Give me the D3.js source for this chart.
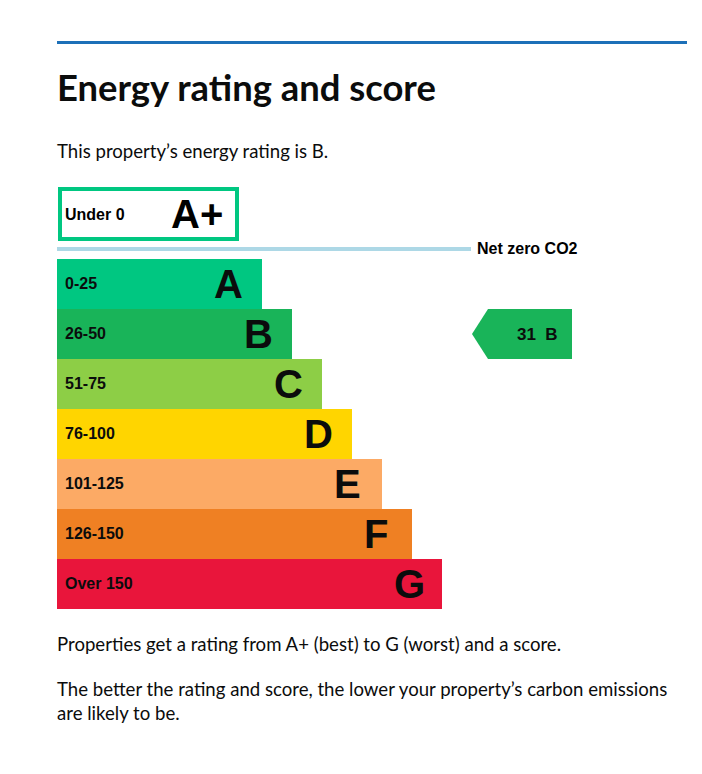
<!DOCTYPE html>
<html>
<head>
<meta charset="utf-8">
<script src="https://cdn.jsdelivr.net/npm/d3@7"></script>
<style>
html,body{margin:0;padding:0;background:#fff;}
svg{display:block;}
</style>
</head>
<body>
<div id="chart"></div>
<script>
// ---- data ----
const title = "Energy rating and score";
const subtitle = "This property\u2019s energy rating is B.";
const ratings = ["A", "B", "C", "D", "E", "F", "G"];
const ranges = ["0-25", "26-50", "51-75", "76-100", "101-125", "126-150", "Over 150"];
const bandColors = ["#00c781", "#19b459", "#8dce46", "#ffd500", "#fcaa65", "#ef8023", "#e9153b"];
const topRating = "A+";
const topRange = "Under 0";
const netZeroLabel = "Net zero CO2";
const currentScore = 31;
const currentRating = "B";
const footnotes = [
  ["Properties get a rating from A+ (best) to G (worst) and a score."],
  ["The better the rating and score, the lower your property\u2019s carbon emissions", "are likely to be."]
];

const W = 702, H = 774;
const svg = d3.select("#chart").append("svg").attr("width", W).attr("height", H);

const bodyFont = "Lato, 'Noto Sans', sans-serif";
const labelFont = "'Liberation Sans', Arial, sans-serif";

// top rule
svg.append("rect").attr("x", 57).attr("y", 41).attr("width", 630).attr("height", 3).attr("fill", "#1d70b8");

svg.append("text").attr("x", 57).attr("y", 101)
  .attr("font-family", bodyFont).attr("font-weight", 700).attr("font-size", 36.4)
  .attr("fill", "#0b0c0c").text(title);

svg.append("text").attr("x", 57).attr("y", 158)
  .attr("font-family", bodyFont).attr("font-size", 18.6)
  .attr("fill", "#0b0c0c").text(subtitle);

// scales
const y = d3.scaleBand().domain(ratings).range([259, 609]).padding(0);
const idx = d3.scaleOrdinal().domain(ratings).range(d3.range(ratings.length));
const xw = d3.scaleLinear().domain([0, ratings.length - 1]).range([262, 442]);
const x0 = 57;

// A+ box
svg.append("rect").attr("x", 60).attr("y", 189).attr("width", 177).attr("height", 50)
  .attr("fill", "#fff").attr("stroke", "#00c781").attr("stroke-width", 4);
svg.append("text").attr("x", 65).attr("y", 219.5)
  .attr("font-family", labelFont).attr("font-weight", 700).attr("font-size", 16)
  .text(topRange);
svg.append("text").attr("x", 171).attr("y", 228)
  .attr("font-family", labelFont).attr("font-weight", 700).attr("font-size", 40)
  .text(topRating);

// net zero line
svg.append("rect").attr("x", 57).attr("y", 247).attr("width", 414).attr("height", 4).attr("fill", "#add8e6");
svg.append("text").attr("x", 477).attr("y", 254)
  .attr("font-family", labelFont).attr("font-weight", 700).attr("font-size", 16)
  .text(netZeroLabel);

// bars
const g = svg.append("g");
const rows = g.selectAll("g.band").data(ratings).join("g").attr("class", "band");
rows.append("rect")
  .attr("x", x0)
  .attr("y", d => y(d))
  .attr("width", d => xw(idx(d)) - x0)
  .attr("height", y.bandwidth())
  .attr("fill", (d, i) => bandColors[i]);
rows.append("text")
  .attr("x", 65)
  .attr("y", d => y(d) + y.bandwidth() / 2 + 5)
  .attr("font-family", labelFont).attr("font-weight", 700).attr("font-size", 16)
  .attr("fill", "#0b0c0c")
  .text((d, i) => ranges[i]);
rows.append("text")
  .attr("x", d => xw(idx(d)) - 48)
  .attr("y", d => y(d) + y.bandwidth() / 2 + 14)
  .attr("font-family", labelFont).attr("font-weight", 700).attr("font-size", 40)
  .attr("fill", "#0b0c0c")
  .text(d => d);

// current rating arrow
const ay = y(currentRating), ah = y.bandwidth();
const ax = 472, aw = 100, tip = 16;
const arrowColor = bandColors[ratings.indexOf(currentRating)];
svg.append("path")
  .attr("d", `M${ax},${ay + ah / 2} L${ax + tip},${ay} L${ax + aw},${ay} L${ax + aw},${ay + ah} L${ax + tip},${ay + ah} Z`)
  .attr("fill", arrowColor);
svg.append("text").attr("x", 517).attr("y", ay + ah / 2 + 6)
  .attr("font-family", labelFont).attr("font-weight", 700).attr("font-size", 17)
  .attr("fill", "#0b0c0c")
  .attr("xml:space", "preserve").style("white-space", "pre")
  .text(currentScore + "  " + currentRating);

// footnotes
const lineYs = [[651], [696, 720]];
footnotes.forEach((lines, pi) => {
  lines.forEach((t, li) => {
    svg.append("text").attr("x", 57).attr("y", lineYs[pi][li])
      .attr("font-family", bodyFont).attr("font-size", 18.6)
      .attr("fill", "#0b0c0c").text(t);
  });
});
</script>
</body>
</html>
